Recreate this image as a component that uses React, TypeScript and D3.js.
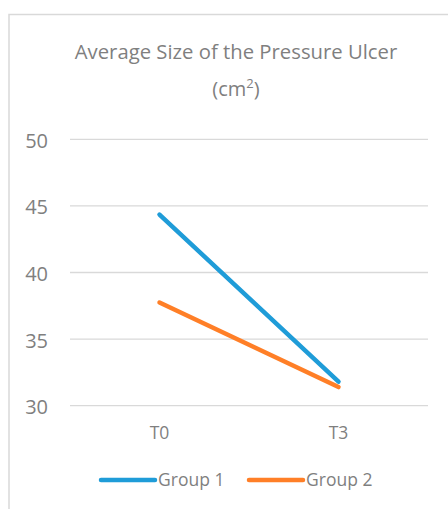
import React from "react";
import * as d3 from "d3";

const categories = ["T0", "T3"];
const group1 = [44.35, 31.8];
const group2 = [37.75, 31.4];
const seriesNames = ["Group 1", "Group 2"];
const yTicks = [30, 35, 40, 45, 50];

const W = 448;
const H = 509;
const FONT = "'Open Sans', 'Noto Sans', sans-serif";
const COLORS = ["#1f9cd8", "#ff7f27"];
const TEXT = "#7f7f7f";

export default function App() {
  const x = d3.scaleBand().domain(categories).range([70, 428]);
  const y = d3.scaleLinear().domain([30, 50]).range([405.7, 139.3]);
  const line = d3
    .line<[string, number]>()
    .x((d) => (x(d[0]) as number) + x.bandwidth() / 2)
    .y((d) => y(d[1]));
  const series = [group1, group2].map((vals) =>
    categories.map((c, i) => [c, vals[i]] as [string, number])
  );

  const legendItems = [
    { x1: 101, x2: 155, tx: 158 },
    { x1: 249, x2: 303, tx: 306 },
  ];

  return (
    <svg
      width={W}
      height={H}
      style={{ position: "absolute", left: 0, top: 0, background: "#fff" }}
      fontFamily={FONT}
    >
      <rect x={9} y={14.5} width={460} height={520} fill="#fff" stroke="#d9d9d9" strokeWidth={1.5} />
      <text x={236} y={59} textAnchor="middle" fontSize={20.3} fill={TEXT}>
        Average Size of the Pressure Ulcer
      </text>
      <text x={236} y={96} textAnchor="middle" fontSize={20} fill={TEXT}>
        (cm<tspan fontSize={13} dy={-8}>2</tspan>
        <tspan dy={8}>)</tspan>
      </text>
      {yTicks.map((t) => (
        <g key={t}>
          <line x1={70} x2={428} y1={y(t)} y2={y(t)} stroke="#d9d9d9" strokeWidth={1.3} />
          <text x={48} y={y(t)} dy={8.5} textAnchor="end" fontSize={20} fill={TEXT}>
            {t}
          </text>
        </g>
      ))}
      {categories.map((c) => (
        <text
          key={c}
          x={(x(c) as number) + x.bandwidth() / 2}
          y={439}
          textAnchor="middle"
          fontSize={17.5}
          fill={TEXT}
        >
          {c}
        </text>
      ))}
      {series.map((s, i) => (
        <path
          key={i}
          d={line(s) || ""}
          fill="none"
          stroke={COLORS[i]}
          strokeWidth={4.5}
          strokeLinecap="round"
        />
      ))}
      {legendItems.map((l, i) => (
        <g key={i}>
          <line x1={l.x1} x2={l.x2} y1={480} y2={480} stroke={COLORS[i]} strokeWidth={4.5} strokeLinecap="round" />
          <text x={l.tx} y={486} fontSize={17.5} fill={TEXT}>
            {seriesNames[i]}
          </text>
        </g>
      ))}
    </svg>
  );
}
